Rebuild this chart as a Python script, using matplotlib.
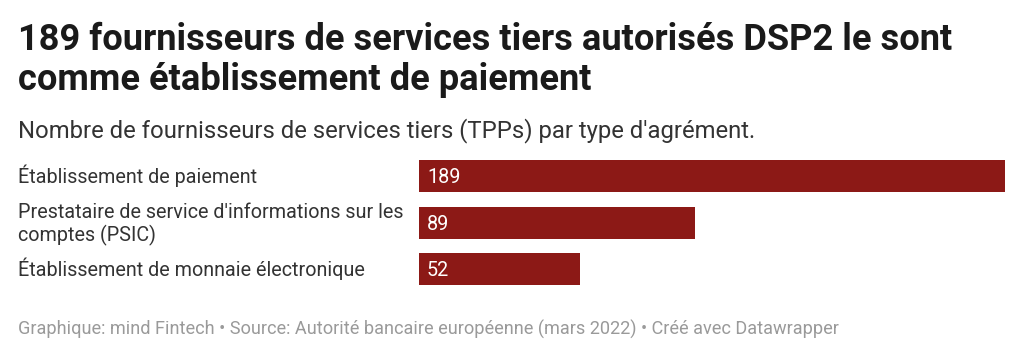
import matplotlib
matplotlib.use("Agg")
import matplotlib.pyplot as plt
import matplotlib.transforms as mtransforms

categories = [
    "Établissement de paiement",
    "Prestataire de service d'informations sur les\ncomptes (PSIC)",
    "Établissement de monnaie électronique",
]
values = [189, 89, 52]

title_lines = [
    "189 fournisseurs de services tiers autorisés DSP2 le sont",
    "comme établissement de paiement",
]
subtitle = "Nombre de fournisseurs de services tiers (TPPs) par type d'agrément."
footer = ("Graphique: mind Fintech • Source: Autorité bancaire européenne (mars 2022) "
          "• Créé avec Datawrapper")

W, H = 1024, 357
bar_color = "#8C1916"
plt.rcParams['font.family'] = ['Roboto', 'DejaVu Sans']

fig = plt.figure(figsize=(W / 100, H / 100), dpi=100)
fig.patch.set_facecolor("white")

def fx(px):
    return px / W

def fy(py):
    return 1 - py / H

# axes for bars
ax_left, ax_right = 419, 1005
ax_top, ax_bottom = 153.0, 292.5
ax = fig.add_axes([fx(ax_left), fy(ax_bottom), (ax_right - ax_left) / W, (ax_bottom - ax_top) / H])
ypos = list(range(len(values)))
ax.barh(ypos, values, height=0.69, color=bar_color, edgecolor="none")
ax.set_xlim(0, max(values))
ax.set_ylim(len(values) - 0.5, -0.5)
ax.axis("off")

label_fs = 14.2
val_fs = 14.2
# baseline offset (pixels below bar centre)
base_off = mtransforms.offset_copy(ax.transData, fig=fig, x=8, y=-7, units="dots")
for y, v in zip(ypos, values):
    ax.text(0, y, str(v), transform=base_off, color="white", fontsize=val_fs,
            va="baseline", ha="left")

blend = mtransforms.blended_transform_factory(fig.transFigure, ax.transData)
line_gap = 23
for y, c in zip(ypos, categories):
    lines = c.split("\n")
    n = len(lines)
    for i, ln in enumerate(lines):
        dy = -7 - (i - (n - 1) / 2) * line_gap
        tr = blend + mtransforms.ScaledTranslation(0, dy / 100, fig.dpi_scale_trans)
        ax.text(fx(18), y, ln, transform=tr, fontsize=label_fs, color="#333333",
                va="baseline", ha="left")

fig.text(fx(18), fy(50), title_lines[0], fontsize=26.1, fontweight="bold",
         color="#1a1a1a", va="baseline", ha="left")
fig.text(fx(18), fy(90), title_lines[1], fontsize=26.1, fontweight="bold",
         color="#1a1a1a", va="baseline", ha="left")
fig.text(fx(18), fy(137), subtitle, fontsize=17.2, color="#333333",
         va="baseline", ha="left")
fig.text(fx(18), fy(335), footer, fontsize=13.1, color="#9a9a9a",
         va="baseline", ha="left")

fig.savefig("out.png", dpi=100, facecolor="white")
